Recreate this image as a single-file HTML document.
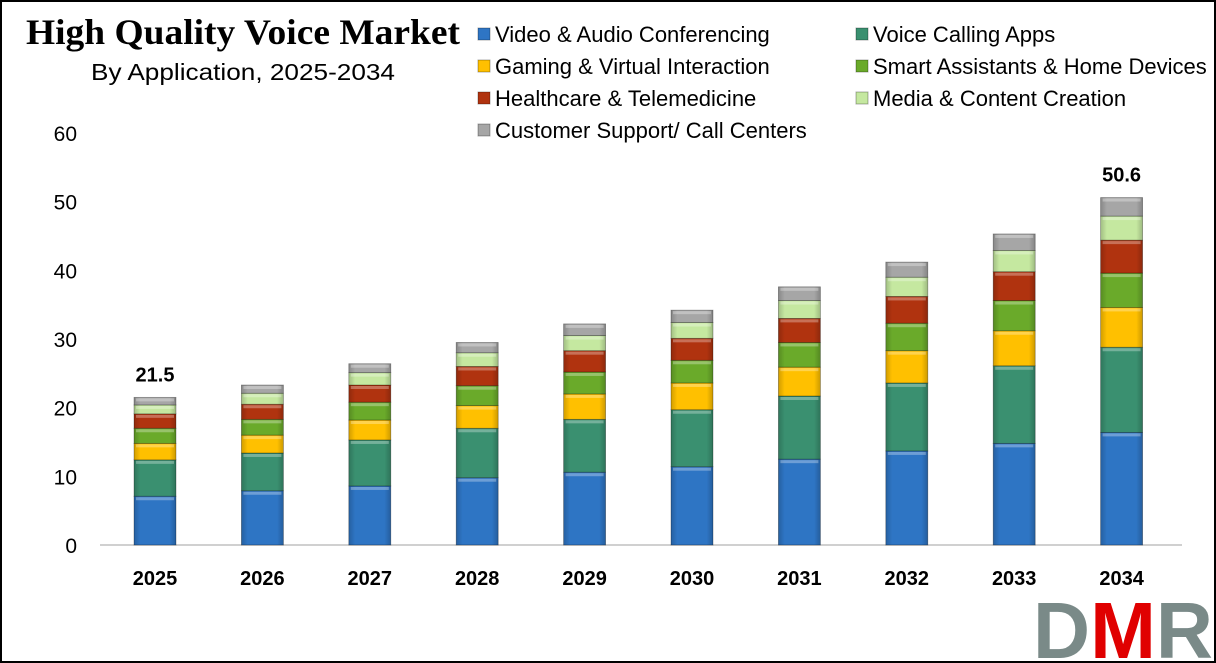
<!DOCTYPE html>
<html><head><meta charset="utf-8"><style>
body{margin:0;background:#fff}
svg{display:block}
text{font-family:"Liberation Sans","DejaVu Sans",sans-serif}
</style></head><body>
<svg id="c" width="1216" height="663" viewBox="0 0 1216 663">
<defs>
<linearGradient id="sh" x1="0" x2="1" y1="0" y2="0">
<stop offset="0" stop-color="#000" stop-opacity="0.18"/><stop offset="0.15" stop-color="#000" stop-opacity="0"/><stop offset="0.85" stop-color="#000" stop-opacity="0"/><stop offset="1" stop-color="#000" stop-opacity="0.2"/>
</linearGradient>
</defs>
<rect x="1" y="1" width="1214" height="661" fill="#fff" stroke="#000" stroke-width="2"/>
<text x="243" y="44" text-anchor="middle" font-weight="bold" font-size="36" style="font-family:'Liberation Serif',serif" textLength="434" lengthAdjust="spacingAndGlyphs">High Quality Voice Market</text>
<text x="243" y="80" text-anchor="middle" font-size="23" textLength="304" lengthAdjust="spacingAndGlyphs">By Application, 2025-2034</text>
<g id="legend"></g>
<g id="axes"></g>
<g id="bars"></g>
<g>
<text x="1033" y="658" font-size="80" font-weight="bold" textLength="180" lengthAdjust="spacingAndGlyphs"><tspan fill="#7a8a88">D</tspan><tspan fill="#e00000">M</tspan><tspan fill="#7a8a88">R</tspan></text>
</g>
</svg>
<script>
const years=["2025","2026","2027","2028","2029","2030","2031","2032","2033","2034"];
const seriesNames=["Video & Audio Conferencing","Voice Calling Apps","Gaming & Virtual Interaction","Smart Assistants & Home Devices","Healthcare & Telemedicine","Media & Content Creation","Customer Support/ Call Centers"];
const videoAudio=[7.1,7.9,8.6,9.8,10.6,11.4,12.5,13.7,14.8,16.4];
const voiceCalling=[5.3,5.5,6.7,7.2,7.7,8.3,9.2,9.9,11.3,12.4];
const gaming=[2.4,2.6,2.9,3.3,3.7,3.9,4.2,4.7,5.1,5.8];
const smartAssist=[2.2,2.3,2.6,2.9,3.2,3.3,3.6,4.0,4.4,5.0];
const healthcare=[2.1,2.2,2.5,2.8,3.1,3.2,3.5,3.9,4.2,4.8];
const media=[1.3,1.6,1.8,2.0,2.2,2.3,2.6,2.8,3.1,3.5];
const support=[1.1,1.2,1.3,1.5,1.7,1.8,2.0,2.2,2.4,2.7];
const yTicks=[0,10,20,30,40,50,60];
const totalLabels=[["2025","21.5"],["2034","50.6"]];
const colors=["#2e75c4","#3a9070","#ffc000","#6aaa2a","#b0330f","#c5e8a0","#a6a6a6"];
const series=[videoAudio,voiceCalling,gaming,smartAssist,healthcare,media,support];
const NS="http://www.w3.org/2000/svg";
function mk(t,a,p){const e=document.createElementNS(NS,t);for(const k in a)e.setAttribute(k,a[k]);p.appendChild(e);return e;}
const y0=545,ppu=(545-133)/60;
const yS=v=>y0-v*ppu;
const xS=i=>155+i*107.4;
const bw=42;
const axes=document.getElementById('axes');
yTicks.forEach(t=>{const e=mk('text',{x:77,y:yS(t)+8,'text-anchor':'end','font-size':21},axes);e.textContent=t;

});
const ax=mk('line',{x1:100,x2:1182,y1:y0,y2:y0,stroke:'#d0d0d0','stroke-width':2},axes);


years.forEach((y,i)=>{const e=mk('text',{x:xS(i),y:585,'text-anchor':'middle','font-size':20,'font-weight':'bold'},axes);e.textContent=y;

});
const bars=document.getElementById('bars');
years.forEach((yr,i)=>{let cum=0;
series.forEach((s,k)=>{const v=s[i];const yt=yS(cum+v),yb=yS(cum);
const r=mk('rect',{x:xS(i)-bw/2,y:yt,width:bw,height:yb-yt,fill:colors[k],stroke:'rgba(0,0,0,0.35)','stroke-width':0.8},bars);


mk('rect',{x:xS(i)-bw/2,y:yt,width:bw,height:yb-yt,fill:'url(#sh)'},bars);
mk('rect',{x:xS(i)-bw/2+2,y:yt+1,width:bw-4,height:Math.min(3,yb-yt),fill:'#fff','fill-opacity':0.3},bars);
cum+=v;});
});
totalLabels.forEach(([yr,lab])=>{const i=years.indexOf(yr);let tot=0;series.forEach(s=>tot+=s[i]);
const e=mk('text',{x:xS(i),y:yS(tot)-16,'text-anchor':'middle','font-size':20,'font-weight':'bold'},bars);e.textContent=lab;

});
const lg=document.getElementById('legend');
seriesNames.forEach((n,k)=>{const col=k%2,row=Math.floor(k/2);const x=col?862:484,y=34+row*32;
const g=mk('g',{},lg);


mk('rect',{x:x-6,y:y-6,width:12,height:12,fill:colors[k],stroke:'rgba(0,0,0,0.3)'},g);
const t=mk('text',{x:x+11,y:y+8,'font-size':22},g);t.textContent=n;});
</script>
</body></html>
